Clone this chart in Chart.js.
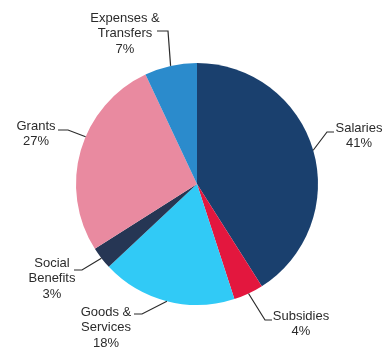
<!DOCTYPE html>
<html>
<head>
<meta charset="utf-8">
<script src="https://cdn.jsdelivr.net/npm/chart.js@4"></script>
<style>
  html, body { margin: 0; padding: 0; background: #fff; }
  #wrap { width: 392px; height: 347px; }
</style>
</head>
<body>
<div id="wrap"><canvas id="pie"></canvas></div>
<script>
// Spending shares, clockwise from 12 o'clock
const categories = ['Salaries', 'Subsidies', 'Goods & Services', 'Social Benefits', 'Grants', 'Expenses & Transfers'];
const shares = [41, 4, 18, 3, 27, 7];
const colors = ['#1a406e', '#e3173e', '#31caf6', '#263654', '#e98aa0', '#2b8bcc'];

// label text lines per slice
const labelLines = [
  ['Salaries', '41%'],
  ['Subsidies', '4%'],
  ['Goods &', 'Services', '18%'],
  ['Social', 'Benefits', '3%'],
  ['Grants', '27%'],
  ['Expenses &', 'Transfers', '7%'],
];

// layout of the callouts: text centre, first line y, leader anchor/elbow, point along slice
const labelLayout = [
  { x: 359, y: 128, ax: 334, ay: 132, ex: 327, ey: 132, frac: 0.5 },
  { x: 301, y: 316, ax: 272, ay: 320, ex: 265, ey: 320, frac: 0.5 },
  { x: 106, y: 312, ax: 134, ay: 314, ex: 142, ey: 314, frac: 0.5 },
  { x: 52, y: 263, ax: 74, ay: 270, ex: 82, ey: 270, frac: 0.5 },
  { x: 36, y: 126, ax: 58, ay: 130, ex: 68, ey: 130, frac: 0.57 },
  { x: 125, y: 18, ax: 157, ay: 31, ex: 168, ey: 31, frac: 0.5 },
];

const callouts = {
  id: 'callouts',
  afterDraw(chart) {
    const ctx = chart.ctx;
    const arcs = chart.getDatasetMeta(0).data;
    ctx.save();
    ctx.font = '13px "Liberation Sans", Arial, sans-serif';
    ctx.fillStyle = '#2b2b2b';
    ctx.strokeStyle = '#2b2b2b';
    ctx.lineWidth = 1.2;
    ctx.textAlign = 'center';
    ctx.textBaseline = 'middle';
    arcs.forEach((arc, i) => {
      const lay = labelLayout[i];
      const p = arc.getProps(['x', 'y', 'startAngle', 'endAngle', 'outerRadius'], true);
      const a = p.startAngle + (p.endAngle - p.startAngle) * lay.frac;
      const px = p.x + Math.cos(a) * p.outerRadius;
      const py = p.y + Math.sin(a) * p.outerRadius;
      ctx.beginPath();
      ctx.moveTo(lay.ax, lay.ay);
      ctx.lineTo(lay.ex, lay.ey);
      ctx.lineTo(px, py);
      ctx.stroke();
      labelLines[i].forEach((t, j) => {
        ctx.fillText(t, lay.x, lay.y + j * 15.5);
      });
    });
    ctx.restore();
  }
};

new Chart(document.getElementById('pie'), {
  type: 'pie',
  data: {
    labels: categories,
    datasets: [{
      data: shares,
      backgroundColor: colors,
      borderWidth: 0,
    }],
  },
  options: {
    responsive: true,
    maintainAspectRatio: false,
    animation: false,
    layout: { padding: { left: 76, right: 74, top: 63, bottom: 42 } },
    plugins: {
      legend: { display: false },
      tooltip: { enabled: false },
    },
  },
  plugins: [callouts],
});
</script>
</body>
</html>
